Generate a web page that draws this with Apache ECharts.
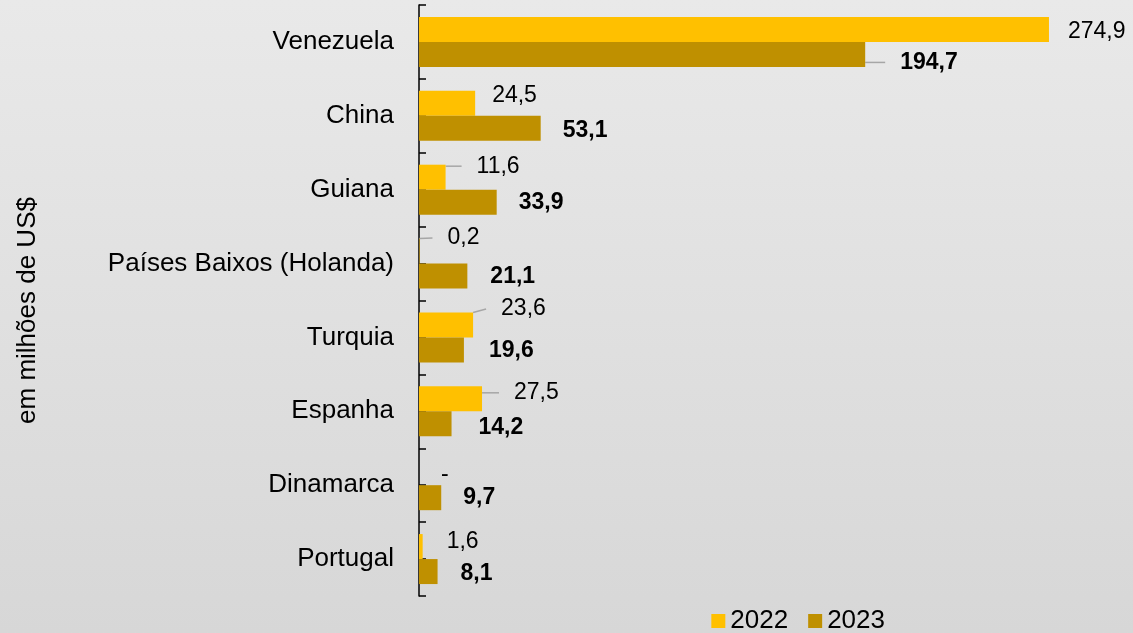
<!DOCTYPE html>
<html>
<head>
<meta charset="utf-8">
<script src="https://cdn.jsdelivr.net/npm/echarts@6/dist/echarts.min.js"></script>
<style>
html,body{margin:0;padding:0;}
#chart{width:1133px;height:633px;}
</style>
</head>
<body>
<div id="chart"></div>
<script>
const categories = ['Venezuela', 'China', 'Guiana', 'Países Baixos (Holanda)', 'Turquia', 'Espanha', 'Dinamarca', 'Portugal'];
const values2022 = [274.9, 24.5, 11.6, 0.2, 23.6, 27.5, 0, 1.6];
const values2023 = [194.7, 53.1, 33.9, 21.1, 19.6, 14.2, 9.7, 8.1];
const seriesNames = ['2022', '2023'];
const axisName = 'em milhões de US$';

// label layout (not data): [gap from bar end, vertical shift from bar centre, leader line]
const labelPlace2022 = [[19, 2, 0], [17, -8, 0], [31, -11, 1], [28, -13, 1], [28, -16, 1], [32, -6, 1], [22, 2, 0], [24, -5, 0]];
const labelPlace2023 = [[35, 8, 1], [22, 2, 0], [22, 0, 0], [23, 1, 0], [25, 1, 0], [27, 4, 0], [22, 0, 0], [23, 2, 0]];
const places = [labelPlace2022, labelPlace2023];
const LEAD_GAP = 15;

const FONT = '"Liberation Sans", Arial, sans-serif';
const fmt = v => (v === 0 ? '-' : v.toFixed(1).replace('.', ','));

const chart = echarts.init(document.getElementById('chart'), null, {renderer: 'canvas'});

function layoutFn(params) {
  const p = places[params.seriesIndex][params.dataIndex];
  const r = params.rect;
  const end = Math.max(r.x, r.x + r.width);
  const cy = r.y + r.height / 2;
  const lx = end + p[0] - (p[2] ? LEAD_GAP : 0);
  const ly = cy + p[1];
  return {x: lx, y: ly, align: 'left', verticalAlign: 'middle'};
}

function makeSeries(sIdx, data, color, bold) {
  const txt = {
    fontFamily: FONT,
    fontSize: 23,
    fontWeight: bold ? 'bold' : 'normal',
    color: '#000'
  };
  return {
    name: seriesNames[sIdx],
    type: 'bar',
    yAxisIndex: 0,
    data: data.map((v, i) => ({
      value: v,
      labelLine: {show: !!places[sIdx][i][2]}
    })),
    barWidth: 25,
    barGap: '0%',
    itemStyle: {color: color},
    label: Object.assign({
      show: true,
      position: 'right',
      distance: 0,
      formatter: p => (places[sIdx][p.dataIndex][2] ? '{g| }' : '') + '{t|' + fmt(p.value) + '}',
      rich: {
        g: {width: LEAD_GAP, fontSize: 23},
        t: Object.assign({}, txt)
      }
    }, txt),
    labelLine: {show: false, lineStyle: {color: '#a6a6a6', width: 1.5}},
    labelLayout: layoutFn
  };
}

chart.setOption({
  backgroundColor: new echarts.graphic.LinearGradient(0, 0, 0, 1, [
    {offset: 0, color: '#e9e9e9'},
    {offset: 1, color: '#d7d7d7'}
  ]),
  animation: false,
  textStyle: {fontFamily: FONT},
  grid: {left: 419, top: 5, right: 26.5, bottom: 37, containLabel: false},
  legend: {
    data: seriesNames,
    right: 243,
    top: 603,
    icon: 'rect',
    itemWidth: 14,
    itemHeight: 14,
    itemGap: 20,
    textStyle: {fontFamily: FONT, fontSize: 26, color: '#000'}
  },
  xAxis: {
    type: 'value',
    min: 0,
    max: 300,
    show: false
  },
  yAxis: [
    {
      type: 'category',
      data: categories,
      inverse: true,
      axisLine: {show: false},
      axisTick: {show: false},
      axisLabel: {fontFamily: FONT, fontSize: 26, color: '#000', margin: 25},
      name: axisName,
      nameLocation: 'middle',
      nameRotate: 90,
      nameGap: 378,
      nameTextStyle: {fontFamily: FONT, fontSize: 26, color: '#000', padding: [0, 20, 0, 0]}
    },
    {
      type: 'value',
      min: 0,
      max: 16,
      interval: 1,
      position: 'left',
      axisLine: {show: true, lineStyle: {color: '#000', width: 1.5}},
      axisTick: {show: true, inside: true, length: 7, lineStyle: {color: '#000', width: 1.5}},
      axisLabel: {show: false},
      splitLine: {show: false}
    }
  ],
  series: [
    makeSeries(0, values2022, '#FFC000', false),
    makeSeries(1, values2023, '#BF9000', true)
  ]
});
</script>
</body>
</html>
